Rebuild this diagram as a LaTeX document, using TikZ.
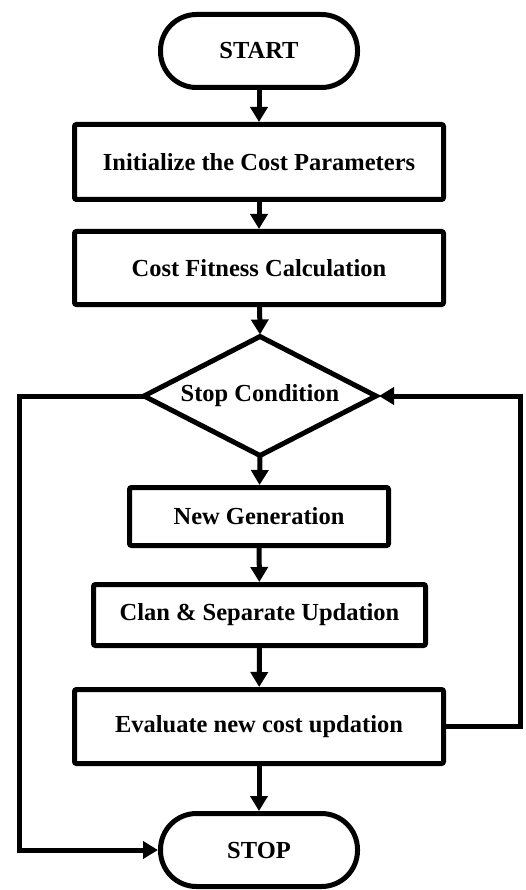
\documentclass[tikz,border=0pt]{standalone}
\usepackage{fontspec}
\setmainfont{Liberation Serif}
\usetikzlibrary{shapes.geometric,arrows.meta}
\begin{document}
\begin{tikzpicture}[x=1pt,y=1pt,
  every node/.style={font=\fontsize{24.5}{29}\selectfont\bfseries, inner sep=0pt, line width=5pt, draw=black},
  procbox/.style={rectangle, rounded corners=2pt},
  termbox/.style={rectangle, rounded corners=36pt},
  decbox/.style={diamond, aspect=2, outer sep=0pt},
  conn/.style={line width=5pt, -{Triangle[length=15pt,width=17pt]}},
  plainline/.style={line width=5pt}
]
\useasboundingbox (0,0) rectangle (525,-890);
\node[termbox, minimum width=197pt, minimum height=73pt] (start) at (259,-51) {START};
\node[procbox, minimum width=369pt, minimum height=75pt] (init) at (259,-162) {Initialize the Cost Parameters};
\node[procbox, minimum width=369pt, minimum height=73pt] (fit) at (259,-268) {Cost Fitness Calculation};
\node[decbox, minimum width=232pt, minimum height=119pt] (cond) at (260,-396) {};
\node[draw=none, line width=0pt] (condtext) at (260,-396) {Stop Condition};
\node[procbox, minimum width=259pt, minimum height=58pt] (newgen) at (259,-516.5) {New Generation};
\node[procbox, minimum width=332pt, minimum height=61pt] (clan) at (259.5,-615) {Clan \& Separate Updation};
\node[procbox, minimum width=369pt, minimum height=74pt] (eval) at (259,-726.5) {Evaluate new cost updation};
\node[termbox, minimum width=197pt, minimum height=73pt] (stop) at (259,-850) {STOP};
\coordinate (lt) at (19.5,-396);
\coordinate (lb) at (19.5,-850);
\coordinate (rb) at (520,-726.5);
\coordinate (rt) at (520,-396);
\draw[conn] (start) -- (init);
\draw[conn] (init) -- (fit);
\draw[conn] (fit) -- ([yshift=2pt]cond.north);
\draw[conn] (cond.south) -- (newgen);
\draw[conn] (newgen) -- (clan);
\draw[conn] (clan) -- (eval);
\draw[conn] (eval) -- (stop);
\draw[conn] (cond.west) -- (lt) -- (lb) -- (stop.west);
\draw[conn] (eval.east) -- (rb) -- (rt) -- ([xshift=3pt]cond.east);
\end{tikzpicture}
\end{document}
